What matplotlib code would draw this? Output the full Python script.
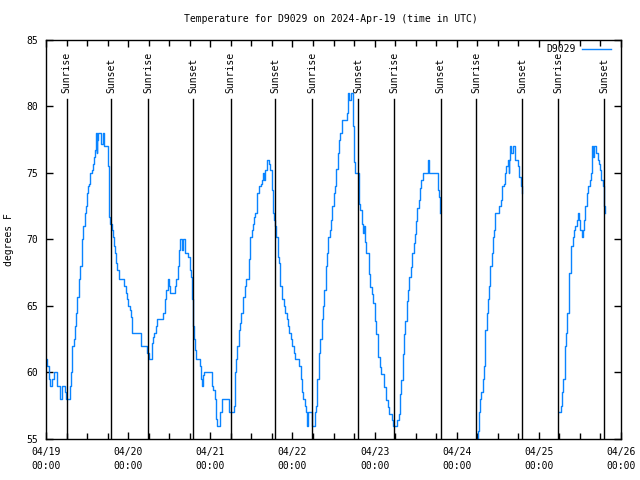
import datetime as dt
import numpy as np
import matplotlib
matplotlib.use("Agg")
import matplotlib.pyplot as plt
import matplotlib.dates as mdates


START = dt.datetime(2024, 4, 19)

# hours after 04/19 00:00 UTC, temperature in degrees F (three pieces, gaps between)
seg1_hours = [
    0.0, 0.4, 0.8, 1.3, 1.8, 2.2, 3.2, 4.0, 4.6, 5.5, 5.7, 6.5, 6.9, 7.3, 7.7, 8.1,
    8.4, 8.8, 9.2, 9.6, 9.9, 10.4, 10.9, 11.3, 11.6, 11.9, 12.3, 12.6, 12.9, 13.3,
    13.7, 14.1, 14.4, 14.6, 14.8, 15.0, 15.3, 15.9, 16.2, 16.6, 17.0, 17.6, 18.0,
    18.4, 18.8, 19.2, 19.5, 19.8, 20.2, 20.5, 20.8, 21.2, 22.5, 22.9, 23.3, 23.7,
    24.0, 24.4, 24.7, 25.0, 27.6, 27.8, 29.2, 29.6, 30.0, 30.6, 30.9, 31.3, 31.7,
    32.0, 32.4, 34.0, 34.3, 34.7, 35.1, 35.5, 35.9, 36.3, 37.2, 37.6, 38.0, 38.6,
    38.8, 39.2, 39.6, 40.0, 40.4, 40.7, 41.3, 41.5, 42.0, 42.3, 42.6, 42.9, 43.2,
    43.5, 43.9, 44.5, 44.9, 45.3, 45.5, 45.9, 46.2, 48.0, 48.4, 48.9, 49.3, 49.7,
    49.9, 50.7, 50.9, 51.3, 53.0, 53.4, 54.4, 54.8, 55.2, 55.6, 55.9, 56.3, 56.7,
    57.1, 57.7, 58.1, 58.5, 58.9, 59.3, 59.7, 60.1, 60.5, 60.8, 61.2, 61.6, 62.2,
    62.8, 63.2, 63.5, 63.8, 64.1, 64.5, 64.7, 65.1, 65.5, 65.9, 66.3, 66.7, 66.9,
    67.3, 67.7, 68.1, 68.5, 68.9, 69.5, 69.9, 70.3, 70.7, 71.1, 71.5, 72.0, 72.4,
    72.8, 73.6, 74.0, 74.4, 74.8, 75.2, 75.6, 76.0, 76.2, 76.6, 77.4, 77.6, 77.8,
    78.2, 78.6, 78.9, 79.3, 79.7, 80.1, 80.5, 80.9, 81.3, 81.7, 82.1, 82.5, 82.9,
    83.3, 83.7, 84.1, 84.4, 84.8, 85.2, 85.6, 86.0, 86.4, 87.6, 87.8, 88.2, 88.6,
    89.0, 89.6, 89.8, 90.0, 90.4, 91.2, 91.4, 91.8, 92.2, 92.6, 92.9, 93.2, 93.6,
    94.0, 94.4, 94.8, 95.2, 95.6, 96.0, 96.4, 96.8, 97.0, 97.6, 98.0, 98.4, 98.8,
    99.2, 99.4, 100.0, 100.3, 100.7, 101.1, 101.3, 102.2, 102.6, 103.0, 103.4,
    103.8, 104.2, 104.6, 105.0, 105.4, 105.8, 106.2, 106.6, 107.0, 107.4, 107.8,
    108.1, 108.5, 108.9, 109.3, 109.7, 110.1, 111.5, 111.7, 112.0, 114.0, 114.4,
    114.8, 115.2,
]
seg1_temps = [
    61.0, 60.5, 59.5, 59.0, 59.5, 60.0, 59.0, 58.0, 59.0, 58.5, 58.0, 58.0, 59.0, 60.0, 62.0, 62.5,
    63.5, 64.5, 65.7, 67.0, 68.0, 70.0, 71.0, 72.0, 72.5, 73.5, 74.0, 74.2, 75.0, 75.2,
    75.7, 76.2, 76.7, 78.0, 76.5, 77.5, 78.0, 78.0, 77.2, 78.0, 77.0, 77.0, 75.5,
    71.7, 71.2, 70.7, 70.2, 69.5, 69.0, 68.2, 67.7, 67.0, 67.0, 66.5, 66.0, 65.5,
    65.0, 64.7, 64.2, 63.0, 63.0, 62.0, 62.0, 61.5, 61.0, 61.0, 62.2, 62.7, 63.0,
    63.5, 64.0, 64.0, 64.5, 65.5, 66.2, 67.0, 66.5, 66.0, 66.0, 66.5, 67.0, 68.0,
    69.2, 70.0, 69.2, 70.0, 70.0, 69.0, 69.0, 68.7, 67.7, 67.2, 65.5, 63.5, 62.5,
    61.7, 61.0, 61.0, 60.5, 59.5, 59.0, 59.8, 60.0, 60.0, 59.0, 58.7, 58.0, 56.5,
    56.0, 56.0, 57.0, 58.0, 58.0, 57.0, 57.0, 57.5, 60.0, 61.0, 62.0, 63.2, 63.7,
    64.5, 65.7, 66.5, 67.0, 67.0, 68.5, 70.2, 70.7, 71.2, 71.7, 72.0, 73.5, 74.0,
    74.2, 74.5, 75.0, 74.5, 75.2, 75.7, 76.0, 75.7, 75.2, 73.7, 72.0, 71.5, 71.0,
    70.2, 68.7, 68.2, 66.5, 65.5, 65.0, 64.5, 64.0, 63.5, 63.0, 62.5, 62.0, 61.5,
    61.0, 61.0, 60.5, 59.5, 58.5, 58.0, 57.5, 57.0, 56.0, 57.0, 57.0, 56.5, 56.0,
    56.0, 57.0, 57.5, 59.5, 61.5, 62.5, 64.0, 65.0, 66.2, 68.0, 69.0, 70.2, 70.7,
    71.5, 72.5, 73.5, 74.0, 75.3, 76.5, 77.5, 78.0, 79.0, 79.0, 79.5, 81.0, 80.5,
    81.0, 81.0, 78.5, 75.8, 75.0, 75.0, 72.7, 72.2, 71.2, 70.5, 71.0, 69.8, 69.0,
    69.0, 67.4, 66.4, 65.9, 65.2, 63.9, 62.9, 62.9, 61.2, 60.4, 59.9, 59.9, 58.9,
    58.9, 57.9, 57.4, 56.9, 56.9, 56.4, 56.0, 56.0, 56.4, 56.9, 58.4,
    59.4, 61.4, 62.9, 63.9, 65.4, 66.2, 67.2, 67.9, 69.0, 69.7, 70.4,
    71.4, 72.4, 73.0, 73.9, 74.5, 75.0, 75.0, 76.0, 75.0, 75.0, 73.7,
    73.2, 72.0,
]

seg2_hours = [
    125.8, 126.2, 126.4, 126.9, 127.2, 127.6, 128.0, 128.2, 128.4, 128.8, 129.2,
    129.5, 129.7, 130.3, 130.6, 130.8, 131.1, 132.3, 132.5, 132.9, 133.3, 133.7,
    134.1, 134.5, 134.9, 135.2, 135.4, 135.7, 136.0, 136.3, 136.7, 137.1, 137.7,
    137.9, 138.3, 138.7, 139.0,
]
seg2_temps = [
    55.0, 55.6, 57.0, 58.0, 58.5, 59.5, 60.5, 61.7, 63.2, 64.5, 65.5,
    66.5, 68.0, 69.0, 70.2, 70.7, 72.0, 72.0, 72.5, 73.0, 74.0, 74.2,
    75.0, 75.5, 76.0, 75.0, 76.0, 77.0, 76.5, 77.0, 77.0, 76.0, 76.0,
    75.5, 74.7, 74.0, 73.5,
]

seg3_hours = [
    149.8, 150.5, 150.9, 151.1, 151.5, 151.7, 151.9, 152.3, 152.7, 152.9, 153.3,
    153.5, 153.9, 154.3, 154.7, 155.1, 155.3, 155.7, 156.1, 156.5, 156.8, 157.2,
    157.6, 158.0, 158.4, 158.8, 159.2, 159.4, 159.8, 160.1, 160.4, 160.8, 161.2,
    161.6, 162.0, 162.3, 162.7, 162.9, 163.3,
]
seg3_temps = [
    57.0, 57.5, 58.5, 59.5, 61.0, 62.0, 63.0, 64.5, 65.5, 67.5, 69.0,
    69.5, 70.2, 70.7, 71.0, 71.5, 72.0, 71.5, 70.7, 70.2, 70.7, 71.5,
    72.5, 73.5, 74.0, 74.5, 75.0, 77.0, 76.2, 77.0, 77.0, 76.5, 76.0,
    75.7, 75.2, 74.5, 74.0, 72.5, 72.0,
]

# sunrise / sunset, hour of day (UTC) for 04/19 .. 04/25
sunrise_hours = [6.05, 5.9, 5.95, 5.8, 5.75, 5.7, 5.7]
sunset_hours = [19.0, 19.05, 19.0, 19.25, 19.3, 19.2, 19.1]

TITLE = "Temperature for D9029 on 2024-Apr-19 (time in UTC)"
LINE_COLOR = "#0a84ff"
FONT = "DejaVu Sans Mono"


def to_times(hours):
    return [START + dt.timedelta(hours=h) for h in hours]


def join_segments(*segs):
    # a NaN just after each piece ends the step there, so gaps stay empty
    times, temps = [], []
    for hrs, vals in segs:
        if times:
            times.append(times[-1] + dt.timedelta(minutes=1))
            temps.append(np.nan)
        times.extend(to_times(hrs))
        temps.extend(vals)
    return times, temps


plt.rcParams["font.family"] = FONT
plt.rcParams["font.size"] = 7

fig = plt.figure(figsize=(6.4, 4.8), dpi=100)
ax = fig.add_axes([46 / 640, 41 / 480, 575 / 640, 399 / 480])

times, temps = join_segments(
    (seg1_hours, seg1_temps),
    (seg2_hours, seg2_temps),
    (seg3_hours, seg3_temps),
)
ax.plot(times, temps, color=LINE_COLOR, lw=1.0, drawstyle="steps-post", label="D9029")

for day, (rise, sset) in enumerate(zip(sunrise_hours, sunset_hours)):
    for h, name in ((rise, "Sunrise"), (sset, "Sunset")):
        t = START + dt.timedelta(days=day, hours=h)
        ax.plot([t, t], [55, 80.55], color="black", lw=1.0)
        ax.text(t, 81.05, name, rotation=90, ha="center", va="bottom", fontsize=7)

ax.set_xlim(START, START + dt.timedelta(days=7))
ax.set_ylim(55, 85)
ax.set_yticks(np.arange(55, 86, 5))

ax.xaxis.set_major_locator(mdates.DayLocator())
ax.xaxis.set_minor_locator(mdates.HourLocator(byhour=[6, 12, 18]))
ax.xaxis.set_major_formatter(mdates.DateFormatter("%m/%d\n%H:%M"))
for lbl in ax.get_xticklabels():
    lbl.set_linespacing(1.45)

ax.tick_params(which="both", direction="in", top=True, right=True, labelsize=7,
               width=1.0, color="black")
ax.tick_params(which="major", length=5)
ax.tick_params(which="minor", length=4)
ax.tick_params(axis="y", pad=6)
ax.tick_params(axis="x", pad=6)

for sp in ax.spines.values():
    sp.set_linewidth(1.0)
    sp.set_color("black")

ax.set_ylabel("degrees F", fontsize=7)
ax.yaxis.set_label_coords(-0.055, 0.5)

fig.text(331 / 640, 1 - 19 / 480, TITLE, ha="center", va="center", fontsize=7)

ax.legend(loc="upper right", bbox_to_anchor=(0.983, 0.99), frameon=False,
          markerfirst=False, handlelength=3.0, borderpad=0, borderaxespad=0,
          handletextpad=0.6, fontsize=7)

fig.savefig("out.png", dpi=100)
